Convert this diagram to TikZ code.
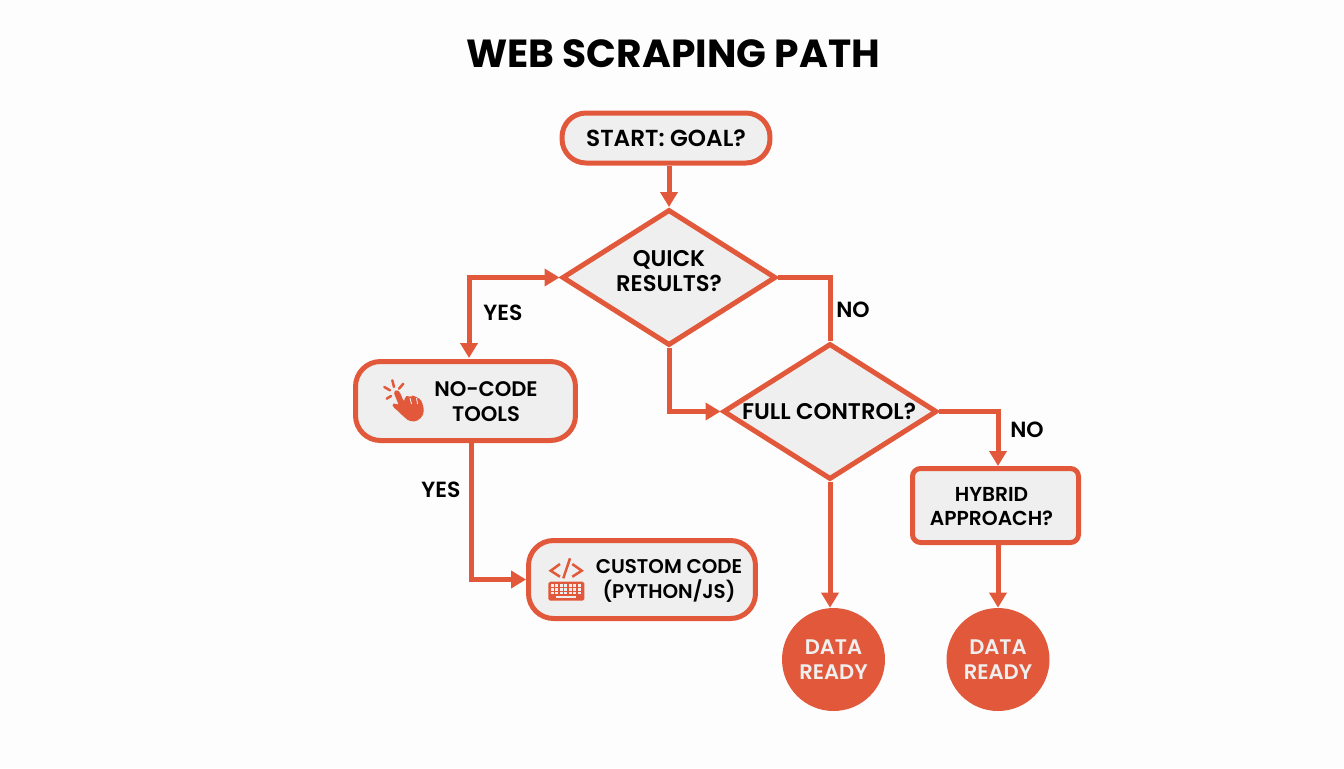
\documentclass[tikz,border=0pt]{standalone}
\usepackage{fontspec}
\setmainfont{Poppins}
\newfontfamily\semifont{Poppins SemiBold}
\usetikzlibrary{arrows.meta,shapes.geometric}
\definecolor{flame}{HTML}{E2583A}
\definecolor{boxgray}{HTML}{EFEFEF}
\definecolor{pagegray}{HTML}{FDFDFD}
\tikzset{
	flow/.style={draw=flame,line width=0.1cm,-{Triangle[length=0.3cm,width=0.34cm]}},
	plainflow/.style={draw=flame,line width=0.1cm},
	softbox/.style={draw=flame,fill=boxgray,line width=0.1cm,rectangle},
	choice/.style={draw=flame,fill=boxgray,line width=0.1cm,diamond,aspect=1.57,minimum width=4.28cm,minimum height=2.72cm,inner sep=0pt},
	finish/.style={fill=flame,circle,minimum size=2.06cm,inner sep=0pt,align=center,text=boxgray,font=\semifont\fontsize{12}{14}\selectfont},
	caption/.style={align=center,text=black,inner sep=0pt,font=\semifont\fontsize{#1}{14.2}\selectfont},
	caption/.default=12
}
\begin{document}
\begin{tikzpicture}[x=0.02cm,y=-0.02cm]
	\useasboundingbox[fill=pagegray] (0,0) rectangle (1344,768);

	%TITLE
	\node[inner sep=0pt,font=\bfseries\fontsize{22.3}{25}\selectfont] (title) at (673,54) {WEB SCRAPING PATH};

	%NODES
	\node[softbox,rounded corners=0.48cm,minimum width=4.16cm,minimum height=1cm,caption=13.2] (start) at (666,138) {START: GOAL?};
	\node[choice] (quick) at (669,277.5) {};
	\node[caption=12.9] (quicktext) at (669,271.5) {QUICK\\RESULTS?};
	\node[choice] (full) at (830,411.5) {};
	\node[caption=12.9] (fulltext) at (829,411.5) {FULL CONTROL?};
	\node[softbox,rounded corners=0.5cm,minimum width=4.4cm,minimum height=1.58cm] (tools) at (465.5,401) {};
	\node[caption] (toolstext) at (486,401.5) {NO-CODE\\TOOLS};
	\node[softbox,rounded corners=0.5cm,minimum width=4.54cm,minimum height=1.56cm] (custom) at (642,579.5) {};
	\node[caption=11.3] (customtext) at (669,580.5) {CUSTOM CODE\\(PYTHON/JS)};
	\node[softbox,rounded corners=0.16cm,minimum width=3.32cm,minimum height=1.48cm] (hybrid) at (995.5,505.5) {};
	\node[caption=11.5] (hybridtext) at (991.5,506.5) {HYBRID\\APPROACH?};
	\node[finish] (readyleft) at (833.5,659.5) {DATA\\READY};
	\node[finish] (readyright) at (998,659.5) {DATA\\READY};

	%CONNECTORS
	\coordinate (toolsin) at (469,358);
	\coordinate (toolsout) at (471,440);
	\draw[flow] (quick.north |- start.south)--(quick.north);
	\draw[flow,{Triangle[length=0.3cm,width=0.34cm]}-{Triangle[length=0.3cm,width=0.34cm]}] (quick.west)-|(toolsin);
	\draw[plainflow] (quick.east)-|(full.north);
	\draw[flow] (quick.south)|-(full.west);
	\draw[flow] (full.east)-|(readyright.north |- hybrid.north);
	\draw[flow] (full.south)--(full.south |- readyleft.north);
	\draw[flow] (readyright.north |- hybrid.south)--(readyright.north);
	\draw[flow] (toolsout)|-(custom.west);

	%LABELS
	\node[caption=12.5] (yesleft) at (503,313) {YES};
	\node[caption=12.5] (noright) at (853,310) {NO};
	\node[caption=12.5] (yesdown) at (441,490) {YES};
	\node[caption=12.5] (nofar) at (1027,430) {NO};

	%HAND ICON
	\fill[flame,rounded corners=1pt] (393.5,392)--(396.5,389.5)--(399.5,391.5)--(404,402)--(405,397)--(408,395)--(410,398)--(411,396)--(414,395)--(416.5,398)--(418,398)--(420.5,399)--(423,405)--(424,411)--(422,417)--(416,421.5)--(409,421)--(403,416)--(398,411)--(393,407)--(392,404)--(395,403)--(399,405.5)--cycle;
	\draw[boxgray,line width=0.5pt] (410,398)--(411.5,404);
	\draw[boxgray,line width=0.5pt] (416.5,398)--(417.5,404);
	\foreach \a/\b/\c/\d in {384.3/387/390/390.3,386.7/398.7/391/396,392.3/380.3/394/387,403.3/383.7/399/388.7}
	\draw[flame,line width=0.05cm,line cap=round] (\a,\b)--(\c,\d);

	%CODE ICON
	\draw[flame,line width=0.05cm] (560,564)--(550.7,570.7)--(560,576.7);
	\draw[flame,line width=0.05cm] (570,558.3)--(563.3,578.3);
	\draw[flame,line width=0.05cm] (572.3,564)--(581.7,570.7)--(572.3,576.7);
	\fill[flame,rounded corners=1pt] (548.3,581.7) rectangle (584.3,600.7);
	\foreach \n in {0,...,2}{
	\foreach \x in {0,...,6}
	\fill[boxgray] (550.5 + \x*4.55,584 + \n*3.9) rectangle +(3.2,2.6);
	}
	\fill[boxgray] (556,595.8) rectangle (576,598.2);
\end{tikzpicture}
\end{document}
